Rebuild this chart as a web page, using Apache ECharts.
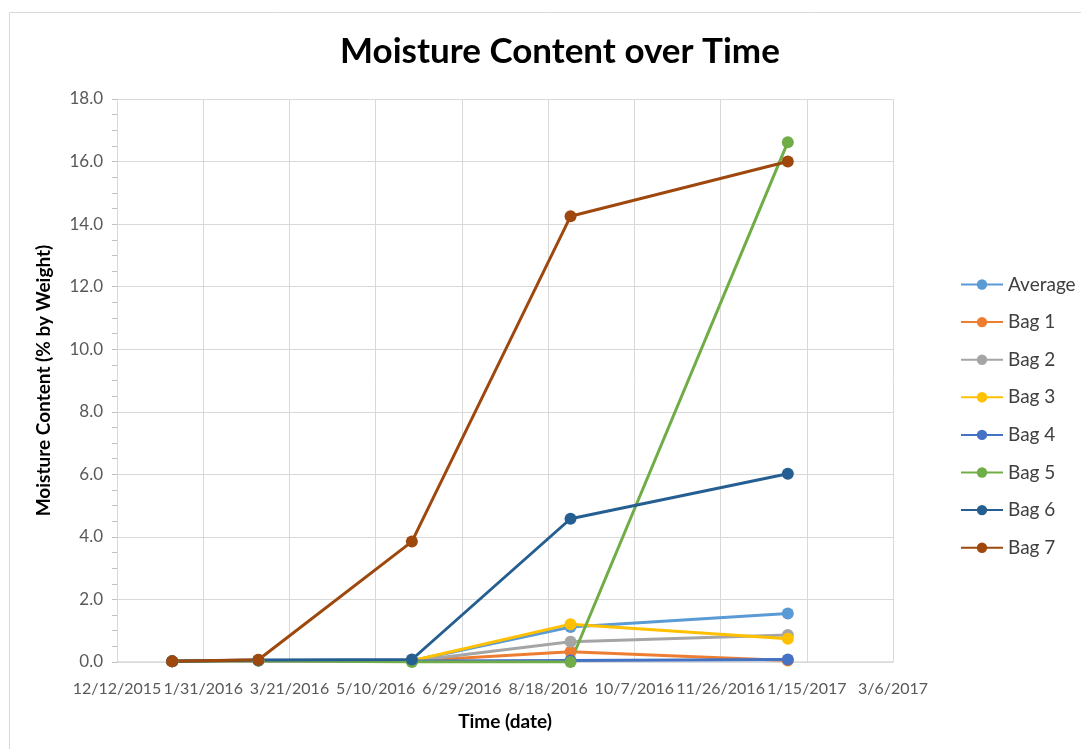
<!DOCTYPE html>
<html>
<head>
<meta charset="utf-8">
<script src="https://cdn.jsdelivr.net/npm/echarts@6/dist/echarts.min.js"></script>
<style>
html,body{margin:0;padding:0;background:#fff;}
#chart{width:1081px;height:749px;}
</style>
</head>
<body>
<div id="chart"></div>
<script>
// ---- Data ----
var dates = ['1/13/2016', '3/3/2016', '5/31/2016', '8/31/2016', '1/4/2017'];
var seriesNames = ['Average', 'Bag 1', 'Bag 2', 'Bag 3', 'Bag 4', 'Bag 5', 'Bag 6', 'Bag 7'];
var average = [0.02, 0.05, 0.04, 1.12, 1.55];
var bag1 = [0.02, 0.05, 0.03, 0.33, 0.05];
var bag2 = [0.02, 0.05, 0.03, 0.65, 0.86];
var bag3 = [0.02, 0.05, 0.04, 1.21, 0.74];
var bag4 = [0.02, 0.05, 0.03, 0.05, 0.08];
var bag5 = [0.02, 0.05, 0.00, 0.00, 16.62];
var bag6 = [0.02, 0.06, 0.08, 4.58, 6.02];
var bag7 = [0.02, 0.07, 3.85, 14.25, 16.0];
var axisStartDate = '12/12/2015';
var axisEndDate = '3/6/2017';
var tickStepDays = 50;
var yTicks = [0, 2, 4, 6, 8, 10, 12, 14, 16, 18];

var colors = ['#5B9BD5', '#ED7D31', '#A5A5A5', '#FFC000', '#4472C4', '#70AD47', '#255E91', '#9E480E'];
var values = [average, bag1, bag2, bag3, bag4, bag5, bag6, bag7];

function parseMDY(s) {
  var p = s.split('/');
  return Date.UTC(+p[2], +p[0] - 1, +p[1]);
}
var DAY = 86400000;
var base = parseMDY(axisStartDate);
function toDays(s) { return Math.round((parseMDY(s) - base) / DAY); }
function dayLabel(d) {
  var dt = new Date(base + d * DAY);
  return (dt.getUTCMonth() + 1) + '/' + dt.getUTCDate() + '/' + dt.getUTCFullYear();
}
var xDays = dates.map(toDays);

var FONT = 'Lato';
var series = seriesNames.map(function (name, i) {
  return {
    name: name,
    type: 'line',
    data: values[i].map(function (v, j) { return [xDays[j], v]; }),
    symbol: 'circle',
    symbolSize: 12,
    showSymbol: true,
    lineStyle: { width: 3, color: colors[i] },
    itemStyle: { color: colors[i] },
    emphasis: { disabled: true },
    animation: false
  };
});

var chart = echarts.init(document.getElementById('chart'));
chart.setOption({
  animation: false,
  color: colors,
  title: {
    text: 'Moisture Content over Time',
    left: 335,
    top: 29,
    textStyle: { fontFamily: FONT, fontSize: 35, fontWeight: 'bold', color: '#000' }
  },
  graphic: [{
    type: 'rect',
    shape: { x: 9.5, y: 12.5, width: 1100, height: 800 },
    style: { fill: 'none', stroke: '#d9d9d9', lineWidth: 1 },
    silent: true
  }],
  legend: {
    orient: 'vertical',
    left: 955,
    top: 270,
    itemWidth: 42,
    itemHeight: 13,
    itemGap: 18.6,
    textStyle: { fontFamily: FONT, fontSize: 19, color: '#404040' },
    data: seriesNames
  },
  grid: { left: 117, top: 99, right: 188, bottom: 87, containLabel: false },
  xAxis: {
    type: 'value',
    min: 0,
    max: toDays(axisEndDate),
    interval: tickStepDays,
    name: 'Time (date)',
    nameLocation: 'middle',
    nameGap: 50,
    nameTextStyle: { fontFamily: FONT, fontSize: 19, fontWeight: 'bold', color: '#000' },
    axisLine: { show: true, lineStyle: { color: '#d9d9d9', width: 1.5 } },
    axisTick: { show: false },
    splitLine: { show: true, lineStyle: { color: '#d9d9d9', width: 1 } },
    axisLabel: {
      fontFamily: FONT, fontSize: 16, color: '#595959', margin: 19,
      formatter: function (v) { return dayLabel(v); },
      showMinLabel: true, showMaxLabel: true, hideOverlap: false
    }
  },
  yAxis: {
    type: 'value',
    min: yTicks[0],
    max: yTicks[yTicks.length - 1],
    interval: 2,
    name: 'Moisture Content (% by Weight)',
    nameLocation: 'middle',
    nameGap: 64,
    nameTextStyle: { fontFamily: FONT, fontSize: 19, fontWeight: 'bold', color: '#000' },
    axisLine: { show: true, lineStyle: { color: '#d9d9d9', width: 1 } },
    axisTick: { show: true, length: 5, lineStyle: { color: '#bfbfbf' } },
    minorTick: { show: true, splitNumber: 4, length: 5, lineStyle: { color: '#bfbfbf' } },
    splitLine: { show: true, lineStyle: { color: '#d9d9d9', width: 1 } },
    axisLabel: {
      fontFamily: FONT, fontSize: 17, color: '#595959', margin: 14,
      formatter: function (v) { return v.toFixed(1); }
    }
  },
  series: series
});
</script>
</body>
</html>
